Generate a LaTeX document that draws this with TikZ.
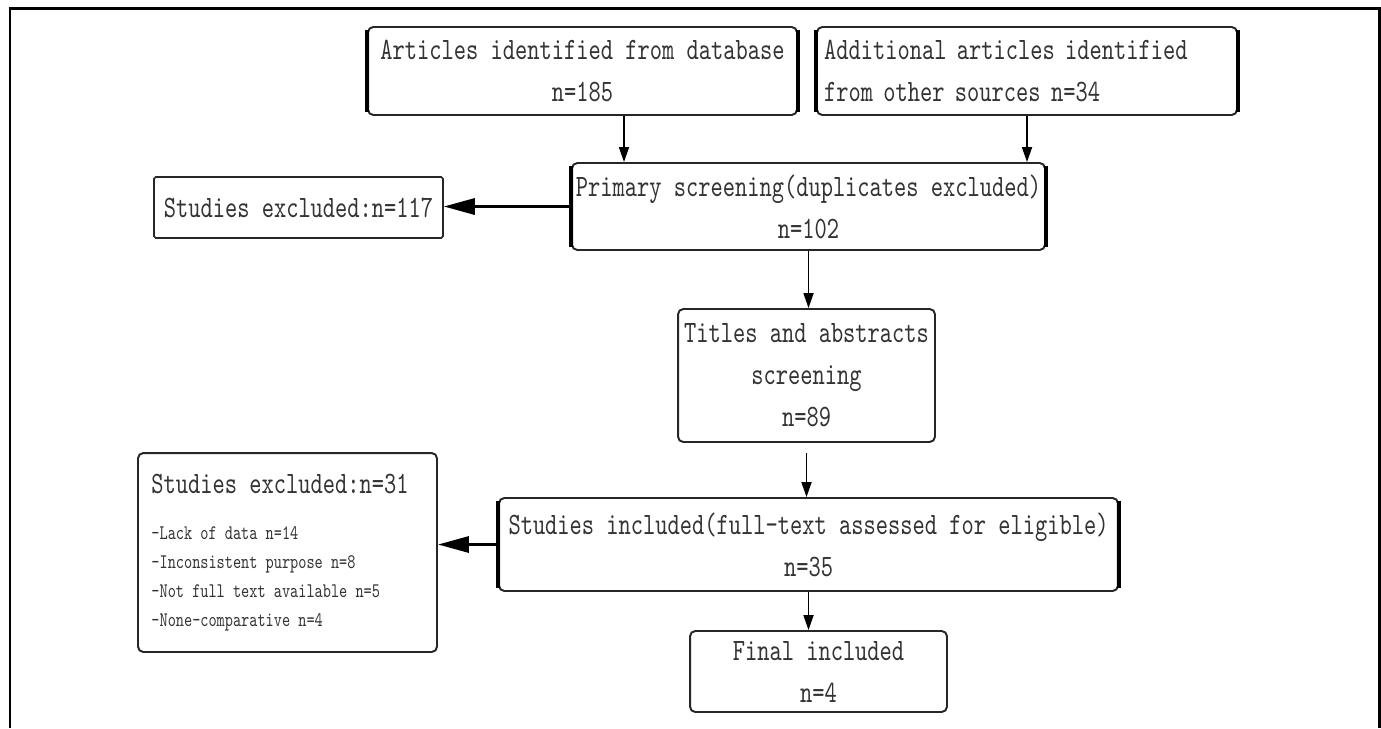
\documentclass[tikz,border=0pt]{standalone}
\usepackage{fontspec}
\newfontfamily\boxfont[FakeStretch=0.75]{lmmono10-regular.otf}
\usepackage{tikz}
\usetikzlibrary{arrows.meta, positioning}
\begin{document}
\begin{tikzpicture}[x=0.02cm, y=-0.02cm,
	box/.style={rectangle, draw=black!85, line width=1.1pt, rounded corners=3pt, align=center,
	            text=black!80, font=\boxfont\fontsize{17.7}{23.9}\selectfont, inner sep=2pt},
	side/.style={-, draw=black, line width=2.6pt},
	heavy/.style={box, append after command={
	            ([yshift=-2pt]\tikzlastnode.north west) edge[side] ([yshift=2pt]\tikzlastnode.south west)
	            ([yshift=-2pt]\tikzlastnode.north east) edge[side] ([yshift=2pt]\tikzlastnode.south east)}},
	arr/.style={-{Triangle[length=0.3cm, width=0.2cm]}, draw=black, line width=1pt},
	bigarr/.style={-{Triangle[length=0.62cm, width=0.32cm]}, draw=black, line width=1.8pt}
	]
\useasboundingbox (0,0) rectangle (1381,728);
\draw[line width=0.06cm] (10,728) -- (10,8) -- (1379,8) -- (1379,728);

\node[heavy, minimum width=8.58cm, minimum height=1.76cm] (db) at (582.5,71)
	{Articles identified from database\\ n=185};
\node[heavy, minimum width=8.4cm, minimum height=1.76cm, align=left, text width=8.12cm,
      inner xsep=4pt] (oth) at (1027,71)
	{Additional articles identified\\ from other sources n=34};
\node[heavy, minimum width=9.46cm, minimum height=1.74cm, inner xsep=0.5pt] (prim) at (808.5,206.5)
	{Primary screening(duplicates excluded)\\ n=102};
\node[box, rounded corners=1pt, line width=0.9pt, minimum width=5.78cm, minimum height=1.22cm]
	(ex1) at (298.5,207.5) {Studies excluded:n=117};
\draw[arr] ([xshift=0.83cm]db.south) -- ([xshift=0.83cm]db.south |- prim.north);
\draw[arr] (oth.south) -- (oth.south |- prim.north);
\draw[bigarr] (prim.west) -- (prim.west -| ex1.east);

\node[box, minimum width=5.14cm, minimum height=2.66cm] (tit) at (806.5,375.5)
	{Titles and abstracts\\ screening\\ n=89};
\draw[arr] (prim.south) -- (prim.south |- tit.north);

\node[heavy, minimum width=12.38cm, minimum height=1.86cm] (inc) at (808.5,544.5)
	{Studies included(full-text assessed for eligible)\\ n=35};
\node[box, align=left, minimum width=5.98cm, minimum height=3.98cm,
      font=\boxfont\fontsize{11.8}{16.5}\selectfont] (ex2) at (287.5,552.5)
	{{\fontsize{17.7}{23.9}\selectfont Studies excluded:n=31}\hspace*{0.3cm}\\[10pt]
	 -Lack of data n=14\\ -Inconsistent purpose n=8\\ -Not full text available n=5\\
	 -None-comparative n=4};
\draw[arr, shorten <=0.2cm] (tit.south) -- (tit.south |- inc.north);
\draw[bigarr] (inc.west) -- (inc.west -| ex2.east);

\node[box, minimum width=5.14cm, minimum height=1.62cm] (fin) at (818.5,671.5)
	{Final included\\ n=4};
\draw[arr] (inc.south) -- (inc.south |- fin.north);
\end{tikzpicture}
\end{document}
